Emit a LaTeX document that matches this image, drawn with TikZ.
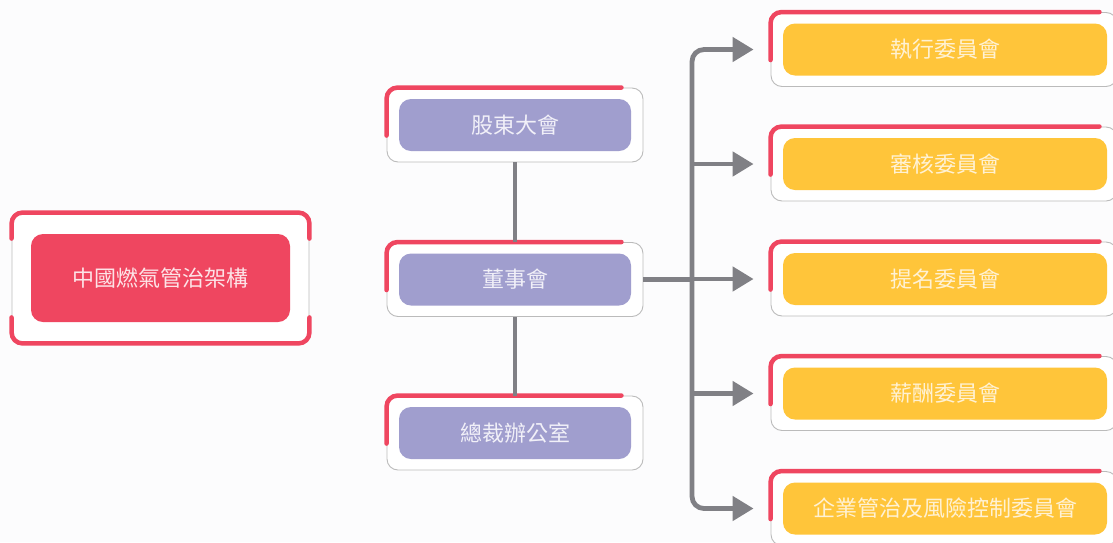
\documentclass[tikz,border=0pt]{standalone}
\usepackage{fontspec}
\newfontfamily\cjk{Noto Sans CJK TC}
\usetikzlibrary{arrows.meta,calc}
\definecolor{bg}{HTML}{FCFCFD}
\definecolor{accred}{HTML}{EF4660}
\definecolor{lilac}{HTML}{A09ECE}
\definecolor{amber}{HTML}{FFC53A}
\definecolor{frameg}{HTML}{BBBBBB}
\definecolor{conng}{HTML}{808085}
\tikzset{
  frame/.style={draw=frameg, line width=0.9pt, fill=white, rounded corners=11pt, inner sep=0pt},
  core/.style={rounded corners=12pt, inner sep=0pt, font=\cjk\fontsize{22}{25}\selectfont},
  redcore/.style={core, fill=accred, text=white!85!accred},
  lilaccore/.style={core, fill=lilac, text=white!85!lilac},
  ambercore/.style={core, fill=amber, text=white!78!amber},
  accent/.style={draw=accred, line width=4.5pt, line cap=round, rounded corners=11pt},
  conn/.style={draw=conng, line width=4.8pt},
  arr/.style={conn, -{Triangle[length=21pt,width=24pt]}, rounded corners=12pt},
}
\begin{document}
\begin{tikzpicture}[x=1pt,y=-1pt]
\fill[bg] (0,0) rectangle (1113,542);
\useasboundingbox (0,0) rectangle (1113,542);

% left node
\node[frame, minimum width=297pt, minimum height=130pt] (lo) at (160.5,278) {};
\node[redcore, minimum width=259pt, minimum height=88pt] (li) at (160.5,278) {中國燃氣管治架構};
\draw[accent] ($(lo.north west)+(0,26)$) -- (lo.north west) -- (lo.north east) -- ($(lo.north east)+(0,26)$);
\draw[accent] ($(lo.south west)+(0,-26)$) -- (lo.south west) -- (lo.south east) -- ($(lo.south east)+(0,-26)$);

% middle nodes
\foreach \n/\y/\t in {m1/125/股東大會, m2/279.5/董事會, m3/433/總裁辦公室}{
  \node[frame, minimum width=256pt, minimum height=74pt] (\n o) at (515,\y) {};
  \node[lilaccore, minimum width=232pt, minimum height=52pt] (\n) at (515,\y) {\t};
  \draw[accent] ($(\n o.north west)+(0,48)$) -- (\n o.north west) -- ($(\n o.north east)+(-22,0)$);
}

% right nodes
\foreach \n/\y/\t in {r1/49.5/執行委員會, r2/164/審核委員會, r3/279/提名委員會, r4/393.5/薪酬委員會, r5/508.5/企業管治及風險控制委員會}{
  \node[frame, minimum width=346pt, minimum height=74pt] (\n o) at (944,\y) {};
  \node[ambercore, minimum width=324pt, minimum height=52pt] (\n) at (945,\y) {\t};
  \draw[accent] ($(\n o.north west)+(0,48)$) -- (\n o.north west) -- ($(\n o.north east)+(-18,0)$);
}

% connectors
\draw[conn] (m1o.south) -- (m2o.north);
\draw[conn] (m2o.south) -- (m3o.north);
\coordinate (trunk) at (692,279.5);
\draw[conn] (m2o.east) -- (trunk);
\draw[arr] (trunk) |- ($(r1o.west)+(-17,0)$);
\draw[arr] (trunk) |- ($(r5o.west)+(-17,0)$);
\draw[arr] (trunk |- r2o.west) -- ($(r2o.west)+(-17,0)$);
\draw[arr] (trunk |- r3o.west) -- ($(r3o.west)+(-17,0)$);
\draw[arr] (trunk |- r4o.west) -- ($(r4o.west)+(-17,0)$);
\end{tikzpicture}
\end{document}
